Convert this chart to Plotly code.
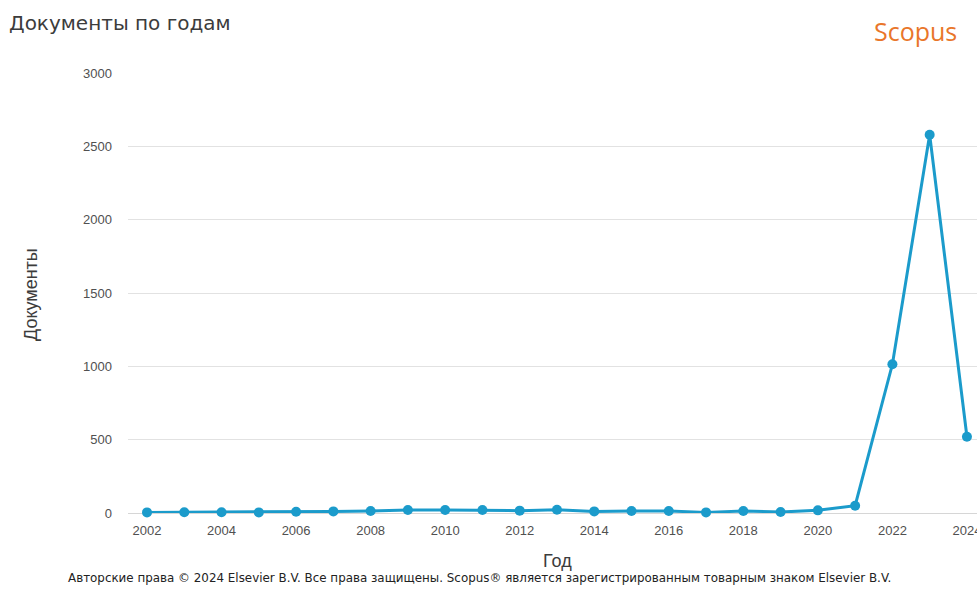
import plotly.graph_objects as go

# Documents per year
years = list(range(2002, 2025))
documents = [4, 5, 5, 4, 8, 11, 14, 20, 20, 20, 16, 22, 11, 14, 14, 4, 14, 7, 18, 50, 1014, 2579, 520]

x_ticks = list(range(2002, 2025, 2))
y_ticks = [0, 500, 1000, 1500, 2000, 2500, 3000]

W, H = 977, 590
L, R, T, B = 128, 0, 73, 77
plot_w = W - L - R
plot_h = H - T - B

def px(x):
    return (x - L) / plot_w

def py(y):
    return (H - B - y) / plot_h

line_color = "#1b9bcb"
axis_font = dict(family="Liberation Sans, Arial, sans-serif", size=13, color="#505050")
text_font = "DejaVu Sans, Arial, sans-serif"

fig = go.Figure(
    go.Scatter(
        x=years,
        y=documents,
        mode="lines+markers",
        line=dict(color=line_color, width=3),
        marker=dict(color=line_color, size=10),
        cliponaxis=False,
        hoverinfo="x+y",
    )
)

fig.update_layout(
    width=W,
    height=H,
    margin=dict(l=L, r=R, t=T, b=B, autoexpand=False),
    paper_bgcolor="white",
    plot_bgcolor="white",
    showlegend=False,
    title=dict(
        text="Документы по годам",
        x=9 / W,
        xanchor="left",
        xref="container",
        y=1 - 23 / H,
        yanchor="middle",
        yref="container",
        font=dict(family=text_font, size=20, color="#3c3c3c"),
    ),
    xaxis=dict(
        range=[2001.49, 2024.27],
        tickvals=x_ticks,
        ticktext=[str(v) for v in x_ticks],
        showgrid=False,
        zeroline=False,
        showline=False,
        ticks="",
        ticklabelstandoff=8,
        ticklabeloverflow="allow",
        automargin=False,
        tickfont=axis_font,
    ),
    yaxis=dict(
        range=[0, 3000],
        tickvals=y_ticks,
        ticktext=[str(v) for v in y_ticks],
        showgrid=True,
        gridcolor="#e2e2e2",
        gridwidth=1,
        zeroline=True,
        zerolinecolor="#d6d6d6",
        zerolinewidth=1,
        showline=False,
        ticks="",
        ticklabelstandoff=15,
        automargin=False,
        tickfont=axis_font,
    ),
    annotations=[
        dict(
            text="Scopus",
            x=px(915), y=py(31), xref="paper", yref="paper",
            xanchor="center", yanchor="middle", showarrow=False,
            font=dict(family="Open Sans, sans-serif", size=25, color="#e9762a"),
        ),
        dict(
            text="Документы",
            x=px(31), y=py(295), xref="paper", yref="paper",
            xanchor="center", yanchor="middle", showarrow=False, textangle=-90,
            font=dict(family="Liberation Sans, Arial, sans-serif", size=18, color="#3c3c3c"),
        ),
        dict(
            text="Год",
            x=px(557), y=py(561), xref="paper", yref="paper",
            xanchor="center", yanchor="middle", showarrow=False,
            font=dict(family="Liberation Sans, Arial, sans-serif", size=18, color="#3c3c3c"),
        ),
        dict(
            text="Авторские права © 2024 Elsevier B.V. Все права защищены. Scopus® является зарегистрированным товарным знаком Elsevier B.V.",
            x=px(66), y=py(578), xref="paper", yref="paper",
            xanchor="left", yanchor="middle", showarrow=False,
            font=dict(family=text_font, size=11.9, color="#222222"),
        ),
    ],
)

fig.write_html("out.html")
